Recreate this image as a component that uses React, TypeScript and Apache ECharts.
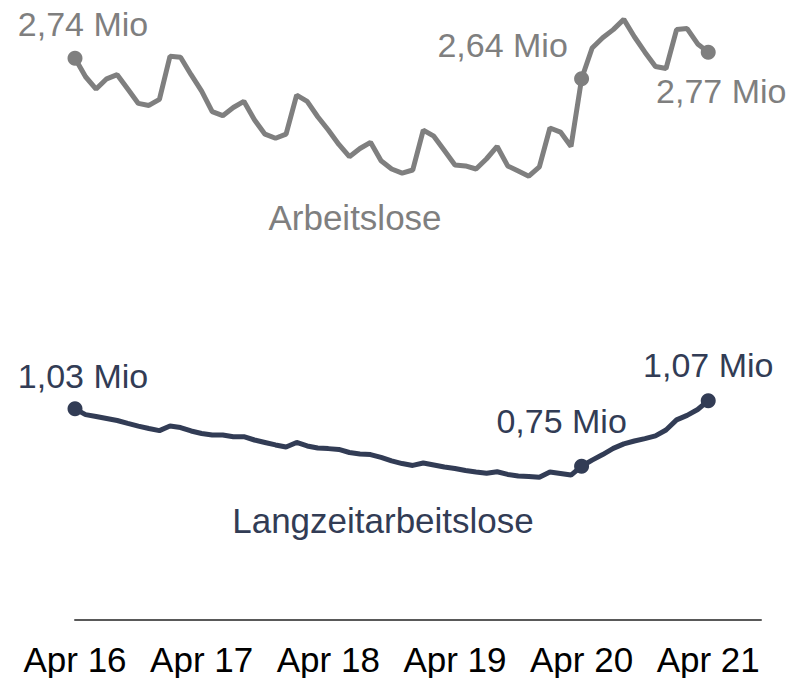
import React, { useEffect, useRef } from 'react';
import * as echarts from 'echarts';

// Monthly categories Apr 16 .. Sep 21 (axis extends past the last data point)
const monthNames = ['Jan', 'Feb', 'Mrz', 'Apr', 'Mai', 'Jun', 'Jul', 'Aug', 'Sep', 'Okt', 'Nov', 'Dez'];
const categories: string[] = [];
for (let i = 0; i < 66; i++) {
  const m = (3 + i) % 12;
  const y = 16 + Math.floor((3 + i) / 12);
  categories.push(`${monthNames[m]} ${y}`);
}
const tickLabels = ['Apr 16', 'Apr 17', 'Apr 18', 'Apr 19', 'Apr 20', 'Apr 21'];

const seriesNames = ['Arbeitslose', 'Langzeitarbeitslose'];

// Values in millions, Apr 2016 .. Apr 2021
const arbeitslose = [
  2.74, 2.65, 2.59, 2.64, 2.66, 2.59, 2.52, 2.51, 2.54, 2.75, 2.745,
  2.66, 2.58, 2.48, 2.46, 2.50, 2.53, 2.44, 2.37, 2.35, 2.37,
  2.56, 2.53, 2.455, 2.39, 2.32, 2.26, 2.30, 2.33, 2.24, 2.20,
  2.18, 2.195, 2.39, 2.36, 2.29, 2.22, 2.215, 2.20, 2.25, 2.31,
  2.215, 2.19, 2.165, 2.21, 2.40, 2.38, 2.31, 2.64, 2.79, 2.84,
  2.88, 2.93, 2.845, 2.77, 2.70, 2.69, 2.88, 2.885, 2.81, 2.77,
];

const langzeit = [
  1.03, 1.002, 0.993, 0.983, 0.973, 0.959, 0.946, 0.934, 0.924, 0.946, 0.939,
  0.922, 0.910, 0.902, 0.902, 0.894, 0.894, 0.878, 0.866, 0.854, 0.844,
  0.866, 0.849, 0.839, 0.836, 0.832, 0.817, 0.810, 0.807, 0.793, 0.776,
  0.763, 0.754, 0.766, 0.756, 0.746, 0.739, 0.729, 0.722, 0.716, 0.723,
  0.710, 0.702, 0.700, 0.696, 0.722, 0.715, 0.707, 0.75, 0.780, 0.807,
  0.837, 0.859, 0.873, 0.885, 0.898, 0.927, 0.976, 0.998, 1.027, 1.07,
];

const labeledIdx = [0, 48, 60];

const GRAY = '#7F7F7F';
const NAVY = '#323C55';
const FONT = '"Liberation Sans", Arial, sans-serif';

const grayOffsets: Record<number, [number, number]> = {
  0: [8, -34],
  48: [-79, -34],
  60: [13, 39],
};
const navyOffsets: Record<number, [number, number]> = {
  0: [8, -33],
  48: [-20, -45],
  60: [0, -36],
};

const fmt = (v: number) => v.toFixed(2).replace('.', ',') + ' Mio';

function buildData(values: number[], offsets: Record<number, [number, number]>, color: string) {
  return values.map((v, i) =>
    labeledIdx.includes(i)
      ? {
          value: v,
          symbol: 'circle',
          symbolSize: 15,
          label: {
            show: true,
            position: 'inside',
            offset: offsets[i],
            formatter: () => fmt(v),
            color,
            fontSize: 34,
            fontFamily: FONT,
            align: 'center',
            verticalAlign: 'middle',
          },
        }
      : { value: v, symbol: 'none' }
  );
}

export default function App() {
  const ref = useRef<HTMLDivElement>(null);
  useEffect(() => {
    if (!ref.current) return;
    const chart = echarts.init(ref.current, undefined, { renderer: 'svg' });
    chart.setOption({
      animation: false,
      backgroundColor: '#fff',
      grid: { left: 75, right: 30, top: 5, bottom: 58, containLabel: false, outerBoundsMode: 'none' },
      xAxis: {
        type: 'category',
        data: categories,
        boundaryGap: false,
        axisLine: { show: true, lineStyle: { color: '#595959', width: 2 } },
        axisTick: { show: false },
        splitLine: { show: false },
        axisLabel: {
          interval: (idx: number, value: string) => tickLabels.includes(value),
          hideOverlap: false,
          fontSize: 35,
          color: '#000',
          margin: 22,
          fontFamily: FONT,
        },
      },
      yAxis: { type: 'value', min: 0, max: 3, show: false, splitLine: { show: false } },
      series: [
        {
          name: seriesNames[0],
          type: 'line',
          data: buildData(arbeitslose, grayOffsets, GRAY),
          showAllSymbol: true,
          lineStyle: { color: GRAY, width: 5 },
          itemStyle: { color: GRAY },
          emphasis: { disabled: true },
          z: 3,
        },
        {
          name: seriesNames[1],
          type: 'line',
          data: buildData(langzeit, navyOffsets, NAVY),
          showAllSymbol: true,
          lineStyle: { color: NAVY, width: 5 },
          itemStyle: { color: NAVY },
          emphasis: { disabled: true },
          z: 3,
        },
      ],
      graphic: [
        {
          type: 'text',
          x: 355,
          y: 217,
          style: { text: seriesNames[0], fill: GRAY, fontSize: 35, fontFamily: FONT, align: 'center', verticalAlign: 'middle' },
        },
        {
          type: 'text',
          x: 383,
          y: 520,
          style: { text: seriesNames[1], fill: NAVY, fontSize: 35, fontFamily: FONT, align: 'center', verticalAlign: 'middle' },
        },
      ],
    });
    return () => chart.dispose();
  }, []);
  return <div ref={ref} style={{ position: 'absolute', left: 0, top: 0, width: 791, height: 678 }} />;
}
